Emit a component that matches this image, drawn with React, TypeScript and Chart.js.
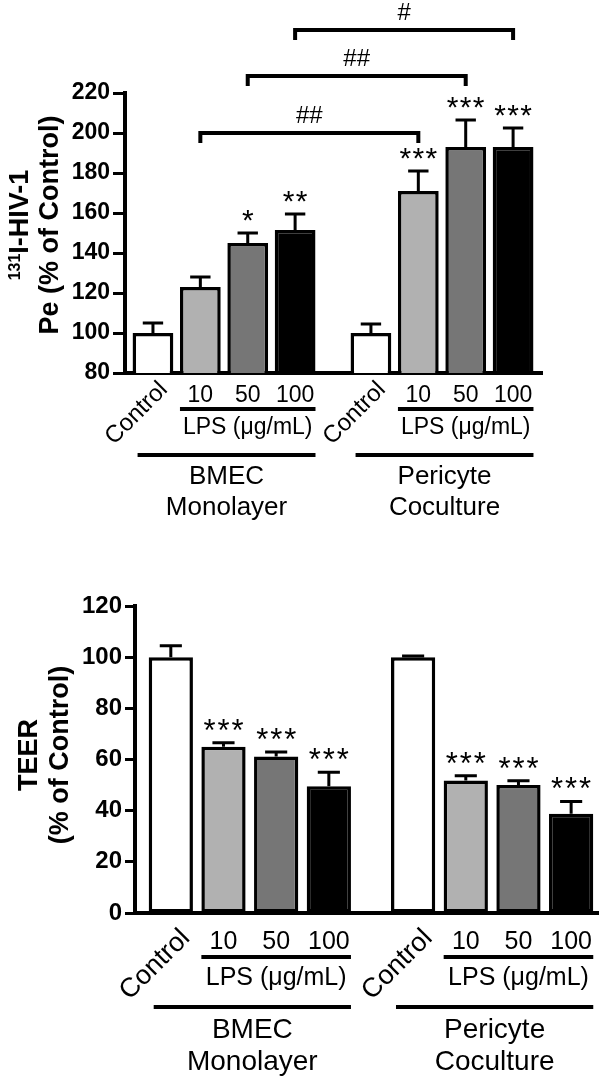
import React, { useEffect, useRef } from "react";
import { Chart, registerables } from "chart.js";

Chart.register(...registerables);

// ---------------- data ----------------
const categories = ["Control", "10", "50", "100", "Control", "10", "50", "100"];
const groupIndex = [0, 0, 0, 0, 1, 1, 1, 1];
const groupNames = [
  ["BMEC", "Monolayer"],
  ["Pericyte", "Coculture"],
];
const doseTitle = "LPS (\u03bcg/mL)";

// 131I-HIV-1 Pe (% of Control)
const peValues = [100, 123, 145, 151.5, 100, 171, 193, 193];
const peErrors = [5, 5, 5, 8, 4.5, 10, 13.5, 9.5];
const peStars = ["", "", "*", "**", "", "***", "***", "***"];
const peTicks = [80, 100, 120, 140, 160, 180, 200, 220];
const peCompareFrom = [1, 2, 3];
const peCompareTo = [5, 6, 7];
const peCompareLevel = [200, 228.5, 251.5];
const peCompareLabel = ["##", "##", "#"];

// TEER (% of Control)
const teerValues = [100, 65, 61.2, 49.5, 100, 51.8, 50, 38.8];
const teerErrors = [4.5, 1.5, 1.7, 5.5, 0.5, 1.8, 1.7, 4.8];
const teerStars = ["", "***", "***", "***", "", "***", "***", "***"];
const teerTicks = [0, 20, 40, 60, 80, 100, 120];

// ---------------- styles ----------------
const FONT = '"Liberation Sans", Arial, Helvetica, sans-serif';
const barColors = ["#ffffff", "#b1b1b1", "#767676", "#000000", "#ffffff", "#b1b1b1", "#767676", "#000000"];
const GROUP_GAP = 0.6;
const positions = categories.map((_, i) => i + groupIndex[i] * GROUP_GAP);

type Seg = { t: string; sup?: boolean };

const topStyle = {
  height: 560,
  area: { left: 125, right: 542, top: 93, bottom: 373 },
  xMin: -0.59,
  xMax: 8.21,
  tickFont: 23,
  tickLength: 12,
  titleSize: 27,
  supSize: 16,
  titleX: [18, 48],
  titleY: 225,
  controlFont: 24,
  controlDx: 11,
  controlDy: 13,
  doseFont: 23,
  doseDy: 23,
  lpsLineDy: 36,
  lpsFont: 23,
  lpsDy: 55,
  groupLineDy: 82,
  groupFont: 26,
  groupDy: [104, 135],
  starFont: 30,
  starSpacing: 13,
  starGap: 18,
  barPct: 0.86,
};

const bottomStyle = {
  height: 525,
  area: { left: 135, right: 598, top: 46, bottom: 353 },
  xMin: -0.68,
  xMax: 8.11,
  tickFont: 24,
  tickLength: 10,
  titleSize: 27,
  supSize: 16,
  titleX: [27, 58],
  titleY: 195,
  controlFont: 27,
  controlDx: 15,
  controlDy: 21,
  doseFont: 25,
  doseDy: 29,
  lpsLineDy: 44,
  lpsFont: 25,
  lpsDy: 65,
  groupLineDy: 94,
  groupFont: 28,
  groupDy: [117, 149],
  starFont: 31,
  starSpacing: 14,
  starGap: 18,
  barPct: 0.84,
};

function drawStars(ctx: CanvasRenderingContext2D, n: number, cx: number, cy: number, size: number, spacing: number) {
  ctx.font = `${size}px ${FONT}`;
  ctx.textAlign = "center";
  ctx.textBaseline = "alphabetic";
  const m = ctx.measureText("*");
  const baseY = cy + (m.actualBoundingBoxAscent - m.actualBoundingBoxDescent) / 2;
  for (let k = 0; k < n; k++) {
    ctx.fillText("*", cx + (k - (n - 1) / 2) * spacing, baseY);
  }
}

function drawTitleLine(ctx: CanvasRenderingContext2D, segs: Seg[], cx: number, cy: number, size: number, supSize: number) {
  ctx.save();
  ctx.translate(cx, cy);
  ctx.rotate(-Math.PI / 2);
  ctx.textAlign = "left";
  ctx.textBaseline = "alphabetic";
  let total = 0;
  const widths = segs.map((s) => {
    ctx.font = `bold ${s.sup ? supSize : size}px ${FONT}`;
    const w = ctx.measureText(s.t).width;
    total += w;
    return w;
  });
  let x = -total / 2;
  const base = (0.716 * size) / 2;
  segs.forEach((s, i) => {
    ctx.font = `bold ${s.sup ? supSize : size}px ${FONT}`;
    const yy = s.sup ? base - 0.716 * (size - supSize) : base;
    ctx.fillText(s.t, x, yy);
    x += widths[i];
  });
  ctx.restore();
}

type Spec = {
  values: number[];
  errors: number[];
  stars: string[];
  ticks: number[];
  title: Seg[][];
  compare?: { from: number[]; to: number[]; level: number[]; label: string[] };
};

function makeOverlay(s: typeof topStyle, d: Spec) {
  return {
    id: "overlay",
    afterDraw(chart: any) {
      const ctx: CanvasRenderingContext2D = chart.ctx;
      const y = chart.scales.y;
      const area = chart.chartArea;
      const bars = chart.getDatasetMeta(0).data as any[];
      ctx.save();
      ctx.fillStyle = "#000";
      ctx.strokeStyle = "#000";

      // error bars + stars
      d.values.forEach((v, i) => {
        const b = bars[i];
        const cx = b.x;
        const yv = y.getPixelForValue(v);
        const ye = y.getPixelForValue(v + d.errors[i]);
        const half = b.width * 0.25;
        ctx.lineWidth = 3;
        ctx.beginPath();
        ctx.moveTo(cx, yv);
        ctx.lineTo(cx, ye);
        ctx.moveTo(cx - half, ye);
        ctx.lineTo(cx + half, ye);
        ctx.stroke();
        const n = d.stars[i].length;
        if (n) drawStars(ctx, n, cx, ye - s.starGap, s.starFont, s.starSpacing);
      });

      // comparison brackets
      if (d.compare) {
        const c = d.compare;
        c.from.forEach((f, k) => {
          const x1 = bars[f].x;
          const x2 = bars[c.to[k]].x;
          const yy = y.getPixelForValue(c.level[k]);
          ctx.lineWidth = 4;
          ctx.lineJoin = "miter";
          ctx.beginPath();
          ctx.moveTo(x1, yy + 10);
          ctx.lineTo(x1, yy);
          ctx.lineTo(x2, yy);
          ctx.lineTo(x2, yy + 10);
          ctx.stroke();
          ctx.font = `24px ${FONT}`;
          ctx.textAlign = "center";
          ctx.textBaseline = "middle";
          ctx.fillText(c.label[k], (x1 + x2) / 2, yy - 17);
        });
      }

      // category labels
      const bottom = area.bottom;
      categories.forEach((cat, i) => {
        const cx = bars[i].x;
        if (cat === "Control") {
          ctx.save();
          ctx.translate(cx + s.controlDx, bottom + s.controlDy);
          ctx.rotate(-Math.PI / 4);
          ctx.font = `${s.controlFont}px ${FONT}`;
          ctx.textAlign = "right";
          ctx.textBaseline = "middle";
          ctx.fillText(cat, 0, 0);
          ctx.restore();
        } else {
          ctx.font = `${s.doseFont}px ${FONT}`;
          ctx.textAlign = "center";
          ctx.textBaseline = "middle";
          ctx.fillText(cat, cx, bottom + s.doseDy);
        }
      });

      // group underlines and labels
      groupNames.forEach((names, g) => {
        const idx = categories.map((_, i) => i).filter((i) => groupIndex[i] === g);
        const doses = idx.filter((i) => categories[i] !== "Control");
        const first = bars[idx[0]];
        const last = bars[idx[idx.length - 1]];
        const d0 = bars[doses[0]];
        const dl = bars[doses[doses.length - 1]];
        const dMid = bars[doses[Math.floor(doses.length / 2)]];
        ctx.lineWidth = 4;
        ctx.beginPath();
        ctx.moveTo(d0.x - d0.width / 2, bottom + s.lpsLineDy);
        ctx.lineTo(dl.x + dl.width / 2, bottom + s.lpsLineDy);
        ctx.stroke();
        ctx.font = `${s.lpsFont}px ${FONT}`;
        ctx.textAlign = "center";
        ctx.textBaseline = "middle";
        ctx.fillText(doseTitle, dMid.x, bottom + s.lpsDy);

        const gx1 = first.x - first.width / 2 + 5;
        const gx2 = last.x + last.width / 2;
        ctx.beginPath();
        ctx.moveTo(gx1, bottom + s.groupLineDy);
        ctx.lineTo(gx2, bottom + s.groupLineDy);
        ctx.stroke();
        ctx.font = `${s.groupFont}px ${FONT}`;
        names.forEach((nm, k) => {
          ctx.fillText(nm, (gx1 + gx2) / 2, bottom + s.groupDy[k]);
        });
      });

      // y-axis title
      ctx.fillStyle = "#000";
      d.title.forEach((segs, k) => {
        drawTitleLine(ctx, segs, s.titleX[k], s.titleY, s.titleSize, s.supSize);
      });

      ctx.restore();
    },
  };
}

function buildChart(canvas: HTMLCanvasElement, s: typeof topStyle, d: Spec) {
  const W = 600;
  return new Chart(canvas, {
    type: "bar",
    data: {
      datasets: [
        {
          data: d.values.map((v, i) => ({ x: positions[i], y: v })),
          backgroundColor: barColors,
          borderColor: "#000",
          borderWidth: 3.5,
          borderSkipped: false,
          categoryPercentage: 1,
          barPercentage: s.barPct,
        } as any,
      ],
    },
    options: {
      animation: false,
      responsive: false,
      maintainAspectRatio: false,
      events: [],
      layout: {
        padding: {
          left: 0,
          right: W - s.area.right,
          top: s.area.top,
          bottom: s.height - s.area.bottom,
        },
      },
      plugins: { legend: { display: false }, tooltip: { enabled: false } },
      scales: {
        x: {
          type: "linear",
          min: s.xMin,
          max: s.xMax,
          offset: false,
          ticks: { display: false, stepSize: 1, includeBounds: false },
          grid: { display: true, drawOnChartArea: false, drawTicks: false },
          border: { display: true, width: 4, color: "#000" },
          afterFit: (sc: any) => {
            sc.height = 0;
          },
        },
        y: {
          type: "linear",
          min: d.ticks[0],
          max: d.ticks[d.ticks.length - 1],
          ticks: {
            stepSize: d.ticks[1] - d.ticks[0],
            color: "#000",
            font: { family: FONT, size: s.tickFont, weight: "bold" },
            padding: 3,
          },
          grid: {
            drawOnChartArea: false,
            drawTicks: true,
            tickLength: s.tickLength,
            tickWidth: 3,
            tickColor: "#000",
            color: "#000",
          },
          border: { display: true, width: 4, color: "#000" },
          afterFit: (sc: any) => {
            sc.width = s.area.left;
          },
        },
      } as any,
    },
    plugins: [makeOverlay(s, d)],
  });
}

function BarPanel({ style, spec }: { style: typeof topStyle; spec: Spec }) {
  const ref = useRef<HTMLCanvasElement>(null);
  useEffect(() => {
    if (!ref.current) return;
    const chart = buildChart(ref.current, style, spec);
    return () => chart.destroy();
  }, []);
  return <canvas ref={ref} width={600} height={style.height} style={{ display: "block", width: 600, height: style.height }} />;
}

export default function App() {
  useEffect(() => {
    document.body.style.margin = "0";
    document.body.style.background = "#fff";
  }, []);
  const peSpec: Spec = {
    values: peValues,
    errors: peErrors,
    stars: peStars,
    ticks: peTicks,
    title: [[{ t: "131", sup: true }, { t: "I-HIV-1" }], [{ t: "Pe (% of Control)" }]],
    compare: { from: peCompareFrom, to: peCompareTo, level: peCompareLevel, label: peCompareLabel },
  };
  const teerSpec: Spec = {
    values: teerValues,
    errors: teerErrors,
    stars: teerStars,
    ticks: teerTicks,
    title: [[{ t: "TEER" }], [{ t: "(% of Control)" }]],
  };
  return (
    <div style={{ width: 600, background: "#fff" }}>
      <BarPanel style={topStyle} spec={peSpec} />
      <BarPanel style={bottomStyle} spec={teerSpec} />
    </div>
  );
}
